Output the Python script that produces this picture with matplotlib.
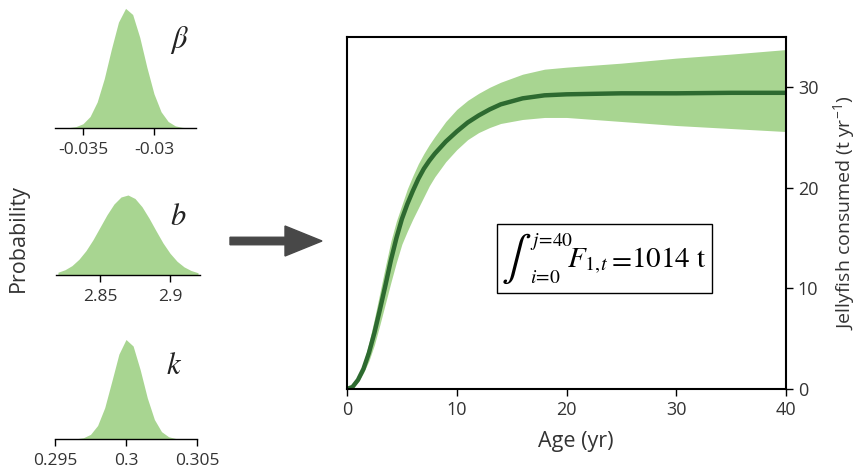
import matplotlib
matplotlib.use("Agg")
import matplotlib.pyplot as plt
from matplotlib.patches import FancyArrow, Rectangle
import numpy as np

plt.rcParams['font.family'] = ['Open Sans', 'DejaVu Sans']
plt.rcParams['mathtext.fontset'] = 'stix'
plt.rcParams['axes.unicode_minus'] = False

# ---- posterior densities (relative height) ----
beta_x = [-0.0365, -0.0360, -0.0355, -0.0350, -0.0345, -0.0340, -0.0335, -0.0330, -0.0325,
          -0.0320, -0.0315, -0.0310, -0.0305, -0.0300, -0.0295, -0.0290, -0.0285, -0.0280, -0.0275]
beta_d = [0.001, 0.003, 0.011, 0.034, 0.092, 0.208, 0.395, 0.631, 0.847,
          0.957, 0.908, 0.725, 0.486, 0.274, 0.130, 0.052, 0.017, 0.005, 0.001]
beta_ticks = [-0.035, -0.03]
beta_labels = ['-0.035', '-0.03']

b_x = [2.820, 2.825, 2.830, 2.835, 2.840, 2.845, 2.850, 2.855, 2.860, 2.865, 2.870,
       2.875, 2.880, 2.885, 2.890, 2.895, 2.900, 2.905, 2.910, 2.915, 2.920]
b_d = [0.022, 0.042, 0.075, 0.126, 0.195, 0.282, 0.382, 0.482, 0.568, 0.624, 0.640,
       0.612, 0.546, 0.455, 0.354, 0.256, 0.174, 0.110, 0.065, 0.036, 0.018]
b_ticks = [2.85, 2.9]
b_labels = ['2.85', '2.9']

k_x = [0.2960, 0.2965, 0.2970, 0.2975, 0.2980, 0.2985, 0.2990, 0.2995, 0.3000,
       0.3005, 0.3010, 0.3015, 0.3020, 0.3025, 0.3030, 0.3035, 0.3040]
k_d = [0.0004, 0.002, 0.010, 0.037, 0.108, 0.250, 0.462, 0.679, 0.796,
       0.744, 0.554, 0.329, 0.156, 0.059, 0.018, 0.004, 0.001]
k_ticks = [0.295, 0.3, 0.305]
k_labels = ['0.295', '0.3', '0.305']

# ---- consumption vs age ----
age = [0, 0.5, 1, 1.5, 2, 2.5, 3, 3.5, 4, 4.5, 5, 5.5, 6, 6.5, 7, 7.5, 8, 9, 10,
       11, 12, 13, 14, 16, 18, 20, 25, 30, 35, 40]
cons_mean = [0, 0.2, 0.9, 2.0, 3.6, 5.6, 7.9, 10.3, 12.8, 15.0, 16.9, 18.4, 19.7, 20.9,
             21.9, 22.7, 23.4, 24.6, 25.6, 26.5, 27.2, 27.8, 28.3, 28.9, 29.2, 29.3,
             29.4, 29.4, 29.45, 29.45]
cons_upper = [0, 0.3, 1.2, 2.6, 4.6, 7.0, 9.6, 12.2, 14.7, 16.7, 18.3, 19.9, 21.2, 22.4,
              23.4, 24.3, 25.1, 26.6, 27.8, 28.7, 29.4, 30.0, 30.5, 31.3, 31.8, 32.0,
              32.4, 32.9, 33.3, 33.75]
cons_lower = [0, 0.15, 0.7, 1.6, 2.8, 4.4, 6.4, 8.5, 10.6, 12.6, 14.4, 15.7, 16.9, 18.0,
              19.1, 20.2, 21.1, 22.6, 23.8, 24.8, 25.5, 26.0, 26.4, 26.8, 27.0, 27.0,
              26.6, 26.2, 25.9, 25.6]

W, H = 863, 471
fig = plt.figure(figsize=(W / 100, H / 100), dpi=100)

fill_c = '#a8d591'
line_c = '#2d6a30'
txt_c = '#333333'

def px_axes(x0, x1, ybottom, h):
    return fig.add_axes([x0 / W, 1 - ybottom / H, (x1 - x0) / W, h / H])

def fx(x):
    return x / W

def fy(y):
    return 1 - y / H

panels = [
    (55, 196, 128, beta_x, beta_d, beta_ticks, beta_labels, (-0.03697, -0.02704), r'$\beta$', (0.88, 0.70)),
    (56, 200, 275, b_x, b_d, b_ticks, b_labels, (2.8186, 2.9214), r'$b$', (0.847, 0.46)),
    (55, 197, 439, k_x, k_d, k_ticks, k_labels, (0.295, 0.305), r'$k$', (0.838, 0.58)),
]
for x0, x1, yb, xs, ds, ticks, labels, xlim, sym, spos in panels:
    ax = px_axes(x0, x1, yb, 125)
    ax.fill_between(xs, 0, ds, color=fill_c, lw=0)
    ax.set_xlim(*xlim)
    ax.set_ylim(0, 1)
    for s in ['left', 'right', 'top']:
        ax.spines[s].set_visible(False)
    ax.spines['bottom'].set_linewidth(1.0)
    ax.set_yticks([])
    ax.set_xticks(ticks)
    ax.set_xticklabels(labels)
    ax.tick_params(axis='x', length=5, width=1.0, labelsize=12.5, labelcolor=txt_c, pad=5)
    ax.patch.set_alpha(0)
    ax.text(spos[0], spos[1], sym, transform=ax.transAxes, fontsize=22,
            ha='center', va='center', color='#222222')

fig.text(fx(18), fy(238), 'Probability', rotation=90, ha='center', va='center',
         fontsize=15.5, color=txt_c)

# arrow (in inches)
arr = FancyArrow(2.30, (H - 241) / 100, 0.92, 0, width=0.075, head_width=0.30,
                 head_length=0.37, length_includes_head=True, color='#484848',
                 transform=fig.dpi_scale_trans)
fig.patches.append(arr)

# main axes
ax = px_axes(347, 786, 389, 352)
ax.fill_between(age, cons_lower, cons_upper, color=fill_c, lw=0)
ax.plot(age, cons_mean, color=line_c, lw=3.2, solid_capstyle='round')
ax.set_xlim(0, 40)
ax.set_ylim(0, 35)
ax.set_xticks([0, 10, 20, 30, 40])
ax.set_yticks([0, 10, 20, 30])
ax.yaxis.tick_right()
ax.yaxis.set_label_position('right')
for s in ax.spines.values():
    s.set_linewidth(1.5)
ax.tick_params(axis='both', length=5, width=1.0, labelsize=13, labelcolor=txt_c)
ax.set_xlabel('Age (yr)', fontsize=15.5, color=txt_c)
ax.xaxis.set_label_coords(0.522, -0.12)
ax.set_ylabel(r'Jellyfish consumed (t yr$^{\mathregular{-1}}$)', fontsize=14,
              color=txt_c, rotation=90, labelpad=10)

# formula box (figure pixel positions)
box = Rectangle((fx(497), fy(293)), (712 - 497) / W, (293 - 224) / H,
                transform=fig.transFigure, fc='white', ec='black', lw=1.0, zorder=5)
fig.add_artist(box)
fig.text(fx(516), fy(259), r'$\int$', fontsize=32, ha='center', va='center', zorder=6)
fig.text(fx(530), fy(241), r'$j\!=\!40$', fontsize=14, ha='left', va='center', zorder=6)
fig.text(fx(530), fy(278), r'$i\!=\!0$', fontsize=14, ha='left', va='center', zorder=6)
fig.text(fx(567), fy(267), r'$F_{1,\!t}$', fontsize=21, ha='left', va='baseline', zorder=6)
fig.text(fx(607), fy(267), r'$\mathrm{=}$', fontsize=21, ha='left', va='baseline', zorder=6)
fig.text(fx(631), fy(267), r'$\mathrm{1014\ t}$', fontsize=21, ha='left', va='baseline', zorder=6)

fig.savefig('out.png', dpi=100)
